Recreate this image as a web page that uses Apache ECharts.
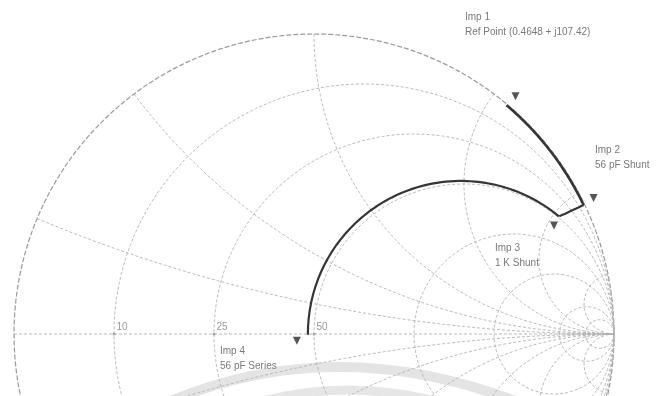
<!DOCTYPE html>
<html>
<head>
<meta charset="utf-8">
<script src="https://cdn.jsdelivr.net/npm/echarts@6/dist/echarts.min.js"></script>
<style>
  html, body { margin: 0; padding: 0; background: #fff; }
  #smith { width: 666px; height: 396px; }
</style>
</head>
<body>
<div id="smith"></div>
<script>
// reference impedance of the chart (ohm)
const Z0 = 50

// resistance circles and reactance arcs drawn on the chart (ohm)
const gridR = [0, 10, 25, 50, 100, 200, 500, 1000]
const gridX = [10, 25, 50, 100, 200, 500]

// labels along the real axis (ohm)
const tickOhms = [10, 25, 50]

// matching steps, impedance R + jX in ohm
const impNames = ['Imp 1', 'Imp 2', 'Imp 3', 'Imp 4']
const impNotes = ['Ref Point (0.4648 + j107.42)', '56 pF Shunt', '1 K Shunt', '56 pF Series']
const impR = [0.4648, 1.956, 48.0, 48.0]
const impX = [107.42, 220.35, 209.36, -0.23]
// how each step moves: constant conductance, constant susceptance, constant resistance
const stepKind = ['constG', 'constB', 'constR']

// layout of the chart disc on the page (px)
const CX = 314
const CY = 334
const RP = 300
const W = 666
const H = 396

// normalised impedance -> reflection coefficient
function gamma (r, x) {
  const den = (r + 1) * (r + 1) + x * x
  return [(r * r + x * x - 1) / den, 2 * x / den]
}
function gammaOhm (R, X) {
  return gamma(R / Z0, X / Z0)
}

function rCircle (r) {
  const pts = []
  const n = 360
  for (let i = 1; i < n; i++) {
    const t = -Math.PI / 2 + Math.PI * i / n
    pts.push(gamma(r, Math.tan(t)))
  }
  pts.unshift([1, 0])
  pts.push([1, 0])
  return pts
}
function xArc (x) {
  const pts = []
  const n = 200
  for (let i = 0; i < n; i++) {
    const t = Math.PI / 2 * i / n
    pts.push(gamma(Math.tan(t), x))
  }
  pts.push([1, 0])
  return pts
}

// path between two impedances following the component that joins them
function stepPath (k) {
  const R1 = impR[k]; const X1 = impX[k]
  const R2 = impR[k + 1]; const X2 = impX[k + 1]
  const m1 = R1 * R1 + X1 * X1
  const m2 = R2 * R2 + X2 * X2
  const G1 = R1 / m1; const B1 = -X1 / m1
  const G2 = R2 / m2; const B2 = -X2 / m2
  const pts = []
  const n = 80
  for (let i = 0; i <= n; i++) {
    const f = i / n
    let R, X
    if (stepKind[k] === 'constR') {
      R = R1
      X = X1 + (X2 - X1) * f
    } else {
      const G = stepKind[k] === 'constG' ? G1 : G1 + (G2 - G1) * f
      const B = stepKind[k] === 'constB' ? B1 : B1 + (B2 - B1) * f
      const my = G * G + B * B
      R = G / my
      X = -B / my
    }
    pts.push(gammaOhm(R, X))
  }
  return pts
}

const gridStyle = { color: '#b2b2b2', width: 0.9, type: [3, 2] }
const series = []

gridR.forEach((r) => {
  series.push({
    type: 'line',
    data: rCircle(r / Z0),
    showSymbol: false,
    silent: true,
    lineStyle: r === 0 ? { color: '#9a9a9a', width: 1.2, type: [5, 2] } : gridStyle,
    z: 1
  })
})
gridX.forEach((x) => {
  [x, -x].forEach((v) => {
    series.push({
      type: 'line',
      data: xArc(v / Z0),
      showSymbol: false,
      silent: true,
      lineStyle: gridStyle,
      z: 1
    })
  })
})
// real axis
series.push({
  type: 'line',
  data: [[-1, 0], [1, 0]],
  showSymbol: false,
  silent: true,
  lineStyle: gridStyle,
  z: 1
})

// axis labels
series.push({
  type: 'scatter',
  data: tickOhms.map((v) => gammaOhm(v, 0).concat([v])),
  symbolSize: 3,
  itemStyle: { color: '#999' },
  label: {
    show: true,
    formatter: (p) => String(p.value[2]),
    position: [4, -10],
    fontFamily: 'Liberation Sans',
    fontSize: 10,
    color: '#808080'
  },
  z: 3
})

// matching trace
stepKind.forEach((kind, k) => {
  series.push({
    type: 'line',
    data: stepPath(k),
    showSymbol: false,
    lineStyle: { color: '#363636', width: k === 0 ? 2.6 : 2.2 },
    z: 4
  })
})

// step markers
const markerOffsets = [[9, -9], [10, -7], [-5, 9], [-11, 6]]
series.push({
  type: 'scatter',
  data: impNames.map((name, i) => ({
    value: gammaOhm(impR[i], impX[i]),
    symbolOffset: markerOffsets[i]
  })),
  symbol: 'triangle',
  symbolRotate: 180,
  symbolSize: 8,
  itemStyle: { color: '#2b2b2b' },
  z: 5
})

// step annotations (text blocks)
const notePos = [[465, 10], [595, 143], [495, 241], [220, 344]]
const textStyle = { fontFamily: 'Liberation Sans', fontSize: 10, fill: '#7a7a7a' }
const graphics = []
impNames.forEach((name, i) => {
  graphics.push({
    type: 'text',
    left: notePos[i][0],
    top: notePos[i][1],
    style: Object.assign({ text: name + '\n' + impNotes[i], lineHeight: 15 }, textStyle),
    z: 10
  })
})
// grey bands left on the scanned page
graphics.push({
  type: 'bezierCurve',
  shape: { x1: 168, y1: 402, cpx1: 335, cpy1: 332, x2: 518, y2: 402 },
  style: { stroke: '#e4e4e4', lineWidth: 10, fill: null },
  z: -10
})
graphics.push({
  type: 'bezierCurve',
  shape: { x1: 252, y1: 404, cpx1: 345, cpy1: 376, x2: 448, y2: 404 },
  style: { stroke: '#e6e6e6', lineWidth: 9, fill: null },
  z: -10
})

const chart = echarts.init(document.getElementById('smith'))
chart.setOption({
  backgroundColor: '#fff',
  animation: false,
  grid: { left: 0, right: 0, top: 0, bottom: 0 },
  xAxis: {
    type: 'value',
    min: -CX / RP,
    max: (W - CX) / RP,
    show: false
  },
  yAxis: {
    type: 'value',
    min: -(H - CY) / RP,
    max: CY / RP,
    show: false
  },
  graphic: graphics,
  series: series
})
</script>
</body>
</html>
